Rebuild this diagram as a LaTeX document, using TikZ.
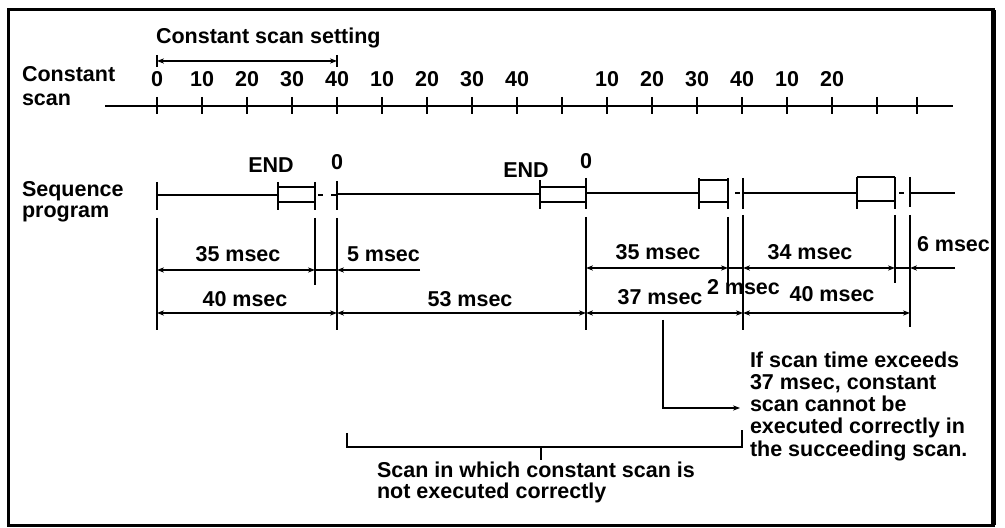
\documentclass[tikz,border=0pt]{standalone}
\usepackage{fontspec}
\setmainfont{Liberation Sans}
\usetikzlibrary{arrows.meta}
\begin{document}
\begin{tikzpicture}[x=0.5pt,y=-0.5pt,
  every node/.style={font=\fontsize{10.75pt}{11pt}\selectfont\bfseries, inner sep=0pt, outer sep=0pt},
  ln/.style={line width=1pt},
  tip/.tip={Stealth[length=3.5pt,width=2.6pt]},
  dim/.style={line width=1pt,tip-tip},
  onearrow/.style={line width=1pt,-tip},
  frame/.style={line width=1.5pt}]
\useasboundingbox (0,0) rectangle (1005,528);
% frame
\draw[frame] (8,10) rectangle (993,525);
\draw[line width=2.5pt] (993,10) -- (993,525);

% ---------- constant scan axis ----------
\node[anchor=base west] (lblcs1) at (22,82) {Constant};
\node[anchor=base west] (lblcs2) at (22,106) {scan};
\coordinate (ax0) at (105,106);
\coordinate (ax1) at (953,106);
\draw[ln] (ax0) -- (ax1);
\foreach \x in {157,202,...,877} \draw[ln] (\x,97) -- (\x,114);
\draw[ln] (917,97) -- (917,114);
\foreach \x/\l [count=\i] in {157/0,202/10,247/20,292/30,337/40,382/10,427/20,472/30,517/40,607/10,652/20,697/30,742/40,787/10,832/20}
  \node[anchor=base] (t\i) at (\x,87) {\l};

% constant scan setting
\node[anchor=base west] (css) at (156,44) {Constant scan setting};
\coordinate (cs0) at (157,61);
\coordinate (cs1) at (337,61);
\draw[ln] (157,55) -- (157,67);
\draw[ln] (337,55) -- (337,67);
\draw[dim] (cs0) -- (cs1);

% ---------- sequence program ----------
\node[anchor=base west] (lblsp1) at (22,197) {Sequence};
\node[anchor=base west] (lblsp2) at (22,218) {program};

\node[anchor=base] (end1) at (271,173) {END};
\node[anchor=base] (zero1) at (337,170) {0};
\node[anchor=base] (end2) at (526,178) {END};
\node[anchor=base] (zero2) at (586,169) {0};

% scan 1
\draw[ln] (157,182) -- (157,210);
\draw[ln] (157,195) -- (278,195);
\draw[ln] (278,182) -- (278,210) (315,182) -- (315,210)
          (278,187) -- (315,187) (278,202) -- (315,202);
\draw[ln] (318,195) -- (323,195) (331,195) -- (337,195);
% scan 2
\draw[ln] (337,181) -- (337,210);
\draw[ln] (337,194) -- (540,194);
\draw[ln] (540,180) -- (540,209) (586,178) -- (586,209)
          (540,187) -- (586,187) (540,202) -- (586,202);
% scan 3
\draw[ln] (586,193) -- (699,193);
\draw[ln] (699,178) -- (699,209) (728,178) -- (728,209)
          (699,180) -- (728,180) (699,202) -- (728,202);
\draw[ln] (735,193) -- (740,193);
% scan 4
\draw[ln] (743,178) -- (743,209);
\draw[ln] (743,193) -- (857,193);
\draw[ln] (857,177) -- (857,209) (895,177) -- (895,209)
          (857,177) -- (895,177) (857,201) -- (895,201);
\draw[ln] (899,193) -- (904,193);
% scan 5
\draw[ln] (910,177) -- (910,207);
\draw[ln] (910,193) -- (955,193);

% ---------- extension lines ----------
\draw[ln] (157,218) -- (157,330);
\draw[ln] (315,218) -- (315,285);
\draw[ln] (337,218) -- (337,330);
\draw[ln] (586,217) -- (586,330);
\draw[ln] (728,217) -- (728,283);
\draw[ln] (743,215) -- (743,330);
\draw[ln] (895,215) -- (895,283);
\draw[ln] (910,215) -- (910,327);

% ---------- row 1 ----------
\draw[dim] (157,270) -- (315,270);
\draw[ln] (315,270) -- (337,270);
\draw[onearrow] (420,270) -- (337,270);
\draw[dim] (586,268) -- (728,268);
\draw[ln] (728,268) -- (743,268);
\draw[dim] (743,268) -- (895,268);
\draw[ln] (895,268) -- (910,268);
\draw[onearrow] (955,268) -- (910,268);

\node[anchor=base] (r1a) at (238,262) {35 msec};
\node[anchor=base west] (r1b) at (347,262) {5 msec};
\node[anchor=base] (r1c) at (658,260) {35 msec};
\node[anchor=base] (r1d) at (810,260) {34 msec};
\node[anchor=base west] (r1e) at (917,252) {6 msec};

% ---------- row 2 ----------
\draw[dim] (157,313) -- (337,313);
\draw[dim] (337,313) -- (586,313);
\draw[dim] (586,313) -- (743,313);
\draw[dim] (743,313) -- (910,313);

\node[anchor=base] (r2a) at (245,307) {40 msec};
\node[anchor=base] (r2b) at (470,307) {53 msec};
\node[anchor=base] (r2c) at (660,305) {37 msec};
\node[anchor=base west] (r2d) at (707,295) {2 msec};
\node[anchor=base] (r2e) at (832,302) {40 msec};

% ---------- callout ----------
\coordinate (co0) at (663,320);
\coordinate (co1) at (740,408);
\draw[onearrow] (co0) |- (co1);
\node[anchor=base west] (n1) at (750,368) {If scan time exceeds};
\node[anchor=base west] (n2) at (750,390) {37 msec, constant};
\node[anchor=base west] (n3) at (750,412) {scan cannot be};
\node[anchor=base west] (n4) at (750,434) {executed correctly in};
\node[anchor=base west] (n5) at (750,456) {the succeeding scan.};

% ---------- bracket ----------
\draw[ln] (347,433) -- (347,447) -- (742,447) -- (742,430);
\draw[ln] (541,447) -- (541,460);
\node[anchor=base west] (b1) at (377,477) {Scan in which constant scan is};
\node[anchor=base west] (b2) at (377,498) {not executed correctly};
\end{tikzpicture}
\end{document}
